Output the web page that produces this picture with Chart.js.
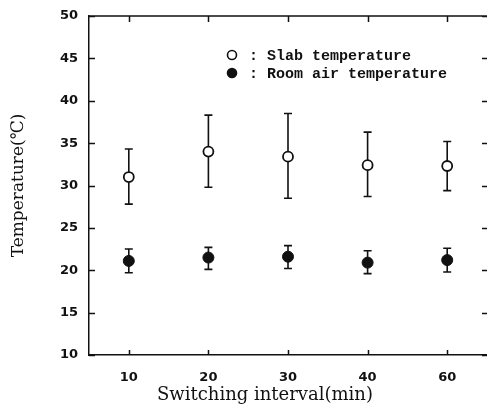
<!DOCTYPE html>
<html>
<head>
<meta charset="utf-8">
<script src="https://cdn.jsdelivr.net/npm/chart.js@4.4.1/dist/chart.umd.min.js"></script>
<style>
  html, body { margin: 0; padding: 0; background: #fff; overflow: hidden; }
  canvas { display: block; }
</style>
</head>
<body>
<canvas id="chart" width="487" height="409"></canvas>
<script>
// Switching interval categories (min)
const intervals = ['10', '20', '30', '40', '60'];

// Slab temperature: mean and error-bar range (°C)
const slabMean = [31.0, 34.0, 33.4, 32.4, 32.3];
const slabLow  = [27.8, 29.8, 28.5, 28.7, 29.4];
const slabHigh = [34.3, 38.3, 38.5, 36.3, 35.2];

// Room air temperature: mean and error-bar range (°C)
const roomMean = [21.1, 21.5, 21.6, 20.9, 21.2];
const roomLow  = [19.7, 20.1, 20.2, 19.6, 19.8];
const roomHigh = [22.5, 22.7, 22.9, 22.3, 22.6];

const yTicks = [10, 15, 20, 25, 30, 35, 40, 45, 50];
const xTitle = 'Switching interval(min)';

const INK = '#111';
const tickFont = { family: 'DejaVu Sans', size: 13, weight: 'bold' };
const titleFont = { family: 'DejaVu Serif', size: 17 };

// vertical error bars with small caps, drawn under the markers
const errorBars = {
  id: 'errorBars',
  beforeDatasetsDraw(chart) {
    const { ctx, scales: { y } } = chart;
    ctx.save();
    ctx.strokeStyle = INK;
    ctx.lineWidth = 1.6;
    chart.data.datasets.forEach((ds, di) => {
      const meta = chart.getDatasetMeta(di);
      meta.data.forEach((pt, i) => {
        const top = y.getPixelForValue(ds.errHigh[i]);
        const bot = y.getPixelForValue(ds.errLow[i]);
        ctx.beginPath();
        ctx.moveTo(pt.x, top); ctx.lineTo(pt.x, bot);
        ctx.moveTo(pt.x - 4, top); ctx.lineTo(pt.x + 4, top);
        ctx.moveTo(pt.x - 4, bot); ctx.lineTo(pt.x + 4, bot);
        ctx.stroke();
      });
    });
    ctx.restore();
  }
};

// frame: top border, inward ticks on all four sides, x title
const frame = {
  id: 'frame',
  afterDraw(chart) {
    const { ctx, chartArea: a, scales: { x, y } } = chart;
    ctx.save();
    ctx.strokeStyle = INK;
    ctx.lineWidth = 1.5;
    ctx.beginPath();
    ctx.moveTo(a.left, a.top); ctx.lineTo(a.right, a.top);
    yTicks.forEach(v => {
      const py = Math.round(y.getPixelForValue(v)) + 0.5;
      ctx.moveTo(a.left, py); ctx.lineTo(a.left + 6, py);
      ctx.moveTo(a.right - 5, py); ctx.lineTo(a.right, py);
    });
    intervals.forEach((_, i) => {
      const px = Math.round(x.getPixelForValue(i)) + 0.5;
      ctx.moveTo(px, a.top); ctx.lineTo(px, a.top + 6);
      ctx.moveTo(px, a.bottom); ctx.lineTo(px, a.bottom - 5);
    });
    ctx.stroke();

    ctx.fillStyle = INK;
    ctx.font = '18px "DejaVu Serif"';
    ctx.textAlign = 'center';
    ctx.textBaseline = 'middle';
    ctx.fillText(xTitle, 265, 395);
    ctx.restore();
  }
};

// in-plot legend with marker symbols
const markerLegend = {
  id: 'markerLegend',
  afterDraw(chart) {
    const { ctx } = chart;
    const rows = [
      { y: 55, fill: '#fff', text: ': Slab temperature' },
      { y: 73, fill: INK, text: ': Room air temperature' }
    ];
    ctx.save();
    ctx.font = 'bold 15px "Liberation Mono"';
    ctx.textBaseline = 'middle';
    rows.forEach(r => {
      ctx.beginPath();
      ctx.arc(232, r.y, 4.5, 0, Math.PI * 2);
      ctx.fillStyle = r.fill;
      ctx.fill();
      ctx.lineWidth = 1.6;
      ctx.strokeStyle = INK;
      ctx.stroke();
      ctx.fillStyle = INK;
      ctx.fillText(r.text, 249, r.y + 1);
    });
    ctx.restore();
  }
};

new Chart(document.getElementById('chart'), {
  type: 'line',
  data: {
    labels: intervals,
    datasets: [
      {
        label: 'Slab temperature',
        data: slabMean,
        errLow: slabLow,
        errHigh: slabHigh,
        showLine: false,
        pointStyle: 'circle',
        pointRadius: 5,
        pointBorderWidth: 1.8,
        pointBackgroundColor: '#fff',
        pointBorderColor: INK
      },
      {
        label: 'Room air temperature',
        data: roomMean,
        errLow: roomLow,
        errHigh: roomHigh,
        showLine: false,
        pointStyle: 'circle',
        pointRadius: 5.5,
        pointBorderWidth: 1,
        pointBackgroundColor: INK,
        pointBorderColor: INK
      }
    ]
  },
  options: {
    responsive: false,
    animation: false,
    events: [],
    layout: { autoPadding: false, padding: { top: 16, right: 0, bottom: 0, left: 0 } },
    plugins: {
      legend: { display: false },
      tooltip: { enabled: false }
    },
    scales: {
      x: {
        type: 'category',
        offset: true,
        grid: { display: false, drawTicks: false },
        border: { display: true, color: INK, width: 1.5 },
        ticks: { color: INK, font: tickFont, padding: 15, maxRotation: 0 },
        afterFit(scale) {
          scale.height = 54;
          scale.paddingLeft = 0;
          scale.paddingRight = 0;
        }
      },
      y: {
        min: 10,
        max: 50,
        grid: { display: false, drawTicks: false },
        border: { display: true, color: INK, width: 1.5 },
        ticks: { stepSize: 5, color: INK, font: tickFont, padding: 11 },
        title: {
          display: true,
          text: 'Temperature(℃)',
          color: INK,
          font: titleFont,
          padding: { top: 8, bottom: 0 }
        },
        afterFit(scale) {
          scale.width = 89;
          scale.paddingTop = 0;
        }
      }
    }
  },
  plugins: [errorBars, frame, markerLegend]
});
</script>
</body>
</html>
